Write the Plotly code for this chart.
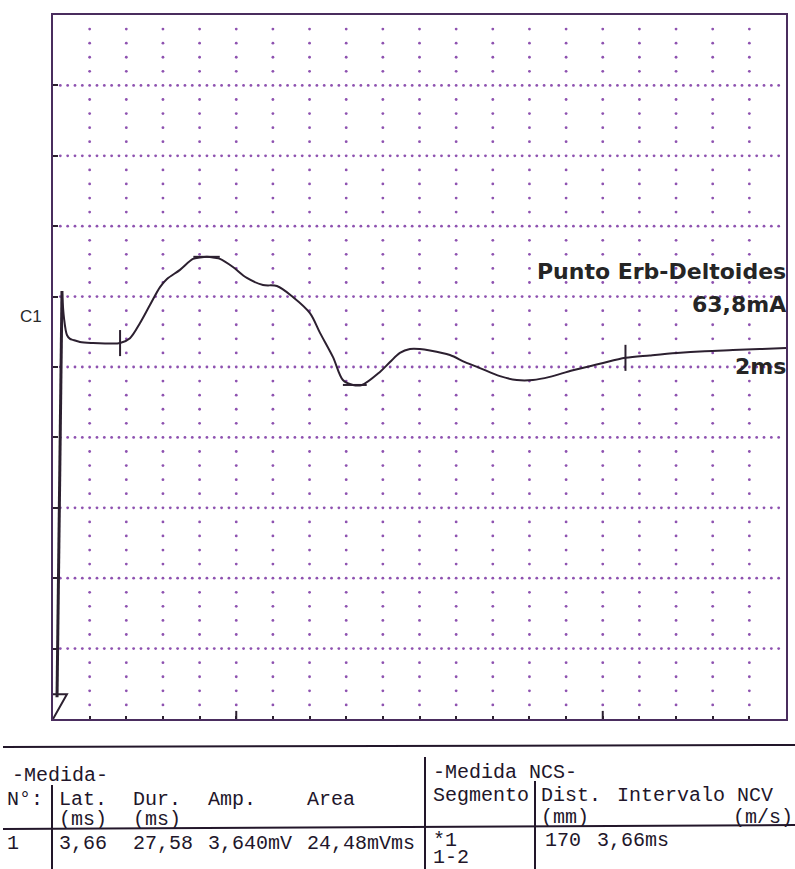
import numpy as np
import plotly.graph_objects as go

W, H = 795, 869
# plot frame in pixels
PX0, PX1, PY0, PY1 = 53, 786, 15, 719

# ---------------- data ----------------
# stimulus artifact (ms, mV)
artifact_t = [0.22, 0.49]
artifact_v = [-9.38, 2.16]

# recorded CMAP waveform (ms, mV)
wave_t = [0.49, 0.60, 0.76, 0.93, 1.09, 1.47, 2.18, 2.84, 3.66, 4.20, 4.75, 5.29,
          5.84, 6.22, 6.93, 7.64, 8.02, 8.40, 8.84, 9.11, 9.82, 10.58, 11.46,
          12.22, 13.09, 14.02, 14.57, 15.28, 15.82, 16.37, 16.86, 17.84, 18.39,
          18.93, 19.48, 20.02, 20.57, 21.66, 22.48, 23.30, 24.39, 25.31, 26.19,
          27.11, 28.37, 29.84, 31.24, 32.57, 34.04, 35.57, 37.10, 38.57, 40.0]
wave_v = [2.16, 1.39, 0.91, 0.80, 0.77, 0.71, 0.68, 0.67, 0.68, 0.82, 1.25, 1.76,
          2.27, 2.50, 2.76, 3.07, 3.11, 3.13, 3.10, 3.07, 2.84, 2.53, 2.33,
          2.30, 1.99, 1.53, 0.97, 0.28, -0.37, -0.51, -0.51, -0.14, 0.14,
          0.40, 0.51, 0.51, 0.47, 0.34, 0.14, -0.03, -0.26, -0.37, -0.37,
          -0.28, -0.09, 0.09, 0.26, 0.33, 0.40, 0.45, 0.48, 0.51, 0.54]

lat_ms = 3.66
dur_ms = 27.58
peak_t, peak_v = 8.38, 3.13
trough_t, trough_v = 16.47, -0.51

ms_per_div = 2
mv_per_div = 2
x_range = [0, 40]
y_range = [-10, 10]

# table text
tbl_left_header = ["Lat.", "Dur.", "Amp.", "Area"]
tbl_left_units = ["(ms)", "(ms)"]
tbl_left_row = ["3,66", "27,58", "3,640mV", "24,48mVms"]
tbl_right_header = ["Segmento", "Dist.", "Intervalo NCV"]
tbl_right_units = ["(mm)", "(m/s)"]
tbl_right_row = ["*1", "170", "3,66ms"]
tbl_right_row2 = ["1-2"]

# ---------------- styling ----------------
FRAME = "#4a2d5e"
TRACE = "#2c2030"
DOT = "#8e52b0"
TXT = "#22162a"

fig = go.Figure()

# dotted grid
hx, hy = [], []
for yv in np.arange(y_range[0] + mv_per_div, y_range[1], mv_per_div):
    for xv in np.arange(0.4, x_range[1], 0.4):
        hx.append(xv); hy.append(yv)
for xv in np.arange(x_range[0] + ms_per_div, x_range[1], ms_per_div):
    for yv in np.arange(y_range[0] + 0.4, y_range[1] - 0.01, 0.4):
        if abs(round(yv / mv_per_div) * mv_per_div - yv) > 1e-6:
            hx.append(xv); hy.append(yv)
fig.add_trace(go.Scatter(x=hx, y=hy, mode="markers",
                         marker=dict(size=2.8, color=DOT, line=dict(width=0)),
                         hoverinfo="skip", showlegend=False))

# artifact
fig.add_trace(go.Scatter(x=artifact_t, y=artifact_v, mode="lines",
                         line=dict(color=TRACE, width=3), showlegend=False))
# waveform
fig.add_trace(go.Scatter(x=wave_t, y=wave_v, mode="lines",
                         line=dict(color=TRACE, width=2, shape="spline", smoothing=0.9),
                         showlegend=False))

# cursors
def vtick(t, half=0.37):
    v = float(np.interp(t, wave_t, wave_v))
    fig.add_shape(type="line", x0=t, x1=t, y0=v - half, y1=v + half,
                  xref="x", yref="y", line=dict(color=TRACE, width=2))

def htick(t, v, half=0.72):
    fig.add_shape(type="line", x0=t - half, x1=t + half, y0=v, y1=v,
                  xref="x", yref="y", line=dict(color=TRACE, width=2))

vtick(lat_ms)
vtick(lat_ms + dur_ms)
htick(peak_t, peak_v)
htick(trough_t, trough_v, 0.65)

# stimulus marker triangle
fig.add_shape(type="path", path="M 0 -9.3 L 0.76 -9.3 L 0 -10",
              xref="x", yref="y", line=dict(color=TRACE, width=2))

# long ticks on x axis
for t in [10, 30]:
    fig.add_shape(type="line", x0=t, x1=t, y0=-10, y1=-9.77, xref="x", yref="y",
                  line=dict(color=TRACE, width=2))

def px(x):
    return x / W

def py(y):
    return 1 - y / H

def ann(text, x, y, size, family, xanchor="left", color=TXT):
    fig.add_annotation(text=text, x=px(x), y=py(y), xref="paper", yref="paper",
                       xanchor=xanchor, yanchor="middle", showarrow=False,
                       font=dict(size=size, family=family, color=color))

SANS = "DejaVu Sans"
MONO = "Liberation Mono"

ann("C1", 18, 316, 17, "Liberation Sans", color="#2a2a2a")
ann("<b>Punto Erb-Deltoides</b>", 788, 271, 22, SANS, "right", "#252525")
ann("<b>63,8mA</b>", 788, 304, 22, SANS, "right", "#252525")
ann("<b>2ms</b>", 788, 366, 22, SANS, "right", "#252525")

# table - left
FS = 20
ann("-Medida-", 10, 775, FS, MONO)
ann("N°:", 5, 799, FS, MONO)
for txt, x in zip(tbl_left_header, [57, 131, 206, 305]):
    ann(txt, x, 799, FS, MONO)
for txt, x in zip(tbl_left_units, [57, 131]):
    ann(txt, x, 819, FS, MONO)
ann("1", 5, 843, FS, MONO)
for txt, x in zip(tbl_left_row, [57, 131, 206, 305]):
    ann(txt, x, 843, FS, MONO)

# table - right
ann("-Medida NCS-", 431, 772, FS, MONO)
for txt, x in zip(tbl_right_header, [431, 539, 615]):
    ann(txt, x, 795, FS, MONO)
ann(tbl_right_units[0], 539, 817, FS, MONO)
ann(tbl_right_units[1], 795, 817, FS, MONO, "right")
for txt, x in zip(tbl_right_row, [431, 543, 595]):
    ann(txt, x, 840, FS, MONO)
ann(tbl_right_row2[0], 431, 857, FS, MONO)

# table lines
def pline(x0, y0, x1, y1, w=2):
    fig.add_shape(type="line", x0=px(x0), x1=px(x1), y0=py(y0), y1=py(y1),
                  xref="paper", yref="paper", line=dict(color=TXT, width=w))

pline(3, 747, 795, 745)
pline(3, 829, 795, 825)
pline(52, 785, 52, 869)
pline(425, 757, 425, 869)
pline(535, 781, 535, 869)

fig.update_layout(
    width=W, height=H,
    margin=dict(l=0, r=0, t=0, b=0),
    paper_bgcolor="white", plot_bgcolor="white",
    showlegend=False,
    xaxis=dict(domain=[PX0 / W, PX1 / W], range=x_range, showgrid=False,
               zeroline=False, showticklabels=False, showline=True, mirror=True,
               linecolor=FRAME, linewidth=2, ticks="inside", ticklen=3,
               tickwidth=2, tickcolor=TRACE,
               tickvals=list(range(2, 40, 2)), fixedrange=True),
    yaxis=dict(domain=[1 - PY1 / H, 1 - PY0 / H], range=y_range, showgrid=False,
               zeroline=False, showticklabels=False, showline=True, mirror=True,
               linecolor=FRAME, linewidth=2, ticks="inside", ticklen=5,
               tickwidth=2, tickcolor=TRACE,
               tickvals=list(range(-8, 10, 2)), fixedrange=True),
)

fig.write_html("out.html",
               config={"displayModeBar": False},
               post_script="document.body.style.margin='0px';"
                           "document.body.style.overflow='hidden';")
